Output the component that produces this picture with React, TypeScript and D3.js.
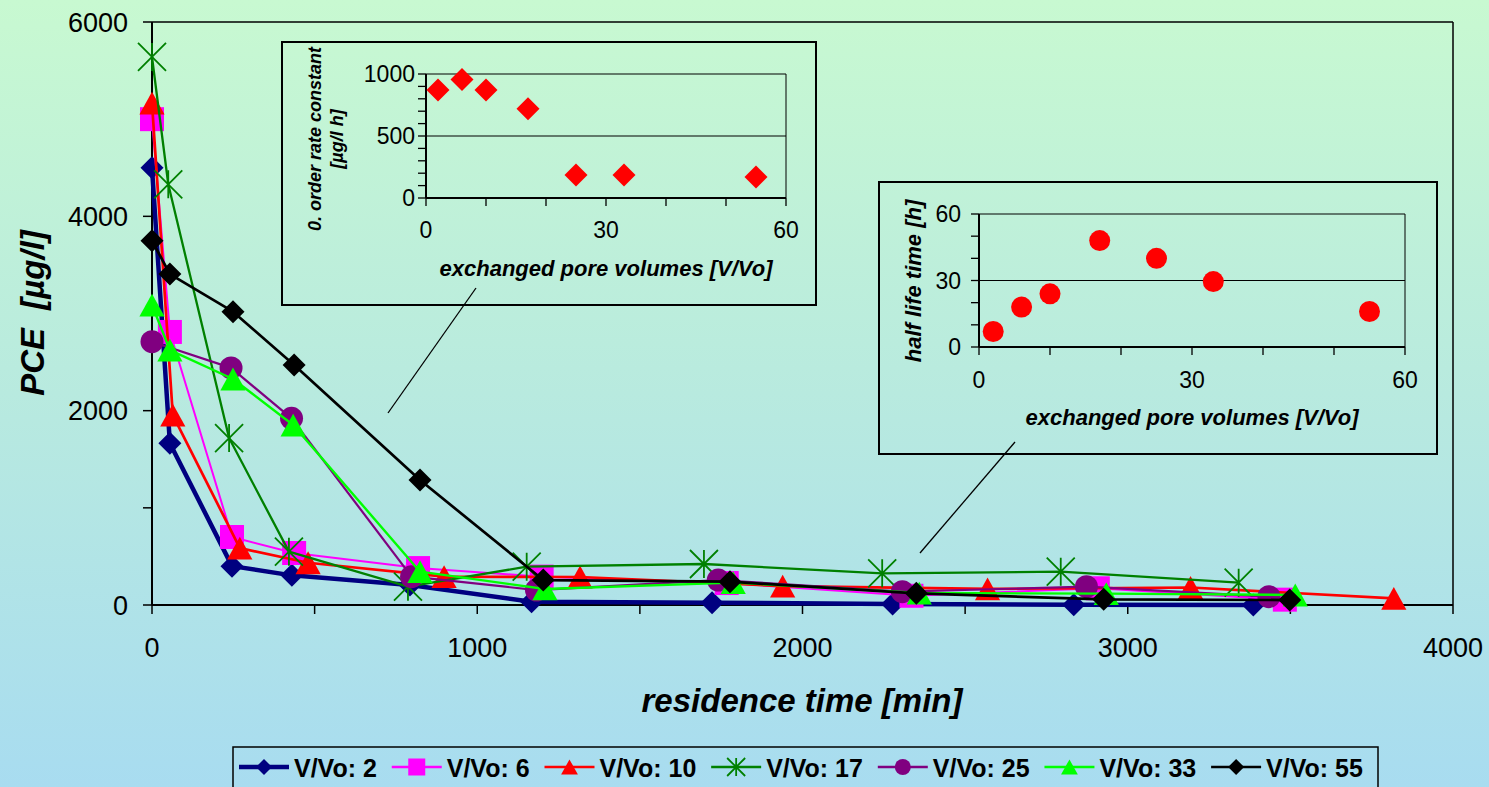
import React from "react";
import * as d3 from "d3";

// ---------- data ----------
const seriesNames = ["V/Vo: 2", "V/Vo: 6", "V/Vo: 10", "V/Vo: 17", "V/Vo: 25", "V/Vo: 33", "V/Vo: 55"];
const seriesColors = ["#000080", "#ff00ff", "#ff0000", "#008000", "#800080", "#00ff00", "#000000"];
const seriesMarkers = ["diamond", "square", "triangle", "star", "circle", "triangle", "diamond"];
const seriesWidths = [4.5, 2, 2.7, 2.3, 2.2, 2.4, 2.7];

const t2 = [0, 55, 246, 430, 793, 1167, 1722, 2277, 2834, 3386];
const c2 = [4500, 1665, 400, 305, 205, 34, 24, 10, 3, 0];
const t6 = [0, 55, 246, 437, 818, 1198, 1767, 2335, 2908, 3483];
const c6 = [5000, 2810, 700, 535, 380, 292, 226, 95, 172, 55];
const t10 = [0, 64, 270, 480, 898, 1316, 1939, 2569, 3193, 3818];
const c10 = [5165, 1955, 586, 435, 292, 288, 195, 165, 180, 69];
const t17 = [0, 50, 237, 421, 787, 1152, 1697, 2245, 2794, 3341];
const c17 = [5640, 4330, 1718, 549, 189, 394, 422, 326, 343, 230];
const t25 = [0, 243, 429, 798, 1182, 1741, 2307, 2873, 3434];
const c25 = [2710, 2440, 1921, 292, 154, 257, 137, 189, 86];
const t33 = [0, 55, 249, 434, 824, 1208, 1787, 2359, 2934, 3515];
const c33 = [3087, 2624, 2326, 1852, 343, 165, 230, 123, 117, 103];
const t55 = [0, 55, 249, 437, 824, 1203, 1777, 2350, 2926, 3498];
const c55 = [3750, 3406, 3019, 2470, 1286, 257, 240, 120, 58, 51];

const seriesTimes = [t2, t6, t10, t17, t25, t33, t55];
const seriesConc = [c2, c6, c10, c17, c25, c33, c55];

const xTicksMain = [0, 1000, 2000, 3000, 4000];
const yTicksMain = [0, 2000, 4000, 6000];

// insets
const poreVolumes = [2, 6, 10, 17, 25, 33, 55];
const rateConstant = [870, 955, 870, 720, 185, 185, 170];
const halfLifeTime = [7, 18, 24, 48, 40, 29.5, 16];
const insetXTicks = [0, 30, 60];
const inset1YTicks = [0, 500, 1000];
const inset2YTicks = [0, 30, 60];

const FONT = "'Liberation Sans', Arial, sans-serif";

function markerPath(type: string, s: number): string {
  switch (type) {
    case "diamond":
      return `M0,${-s}L${s},0L0,${s}L${-s},0Z`;
    case "square":
      return `M${-s},${-s}H${s}V${s}H${-s}Z`;
    case "triangle":
      return `M0,${-s * 0.95}L${s * 1.05},${s * 0.95}L${-s * 1.05},${s * 0.95}Z`;
    case "circle":
      return `M${s},0A${s},${s} 0 1,1 ${-s},0A${s},${s} 0 1,1 ${s},0Z`;
    case "star":
      return `M${-s},${-s}L${s},${s}M${s},${-s}L${-s},${s}M0,${-s}L0,${s}`;
  }
  return "";
}

function Marker({ type, color, s, cx, cy }: any) {
  const isStar = type === "star";
  return (
    <path
      transform={`translate(${cx},${cy})`}
      d={markerPath(type, s)}
      fill={isStar ? "none" : color}
      stroke={isStar ? color : "none"}
      strokeWidth={isStar ? 1.8 : 0}
    />
  );
}

const mainSize: Record<string, number> = { diamond: 11.5, square: 12, triangle: 12, circle: 11.5, star: 14 };
const legendSize: Record<string, number> = { diamond: 8, square: 8.5, triangle: 8, circle: 8, star: 9 };

export default function App() {
  const x = d3.scaleLinear().domain([0, 4000]).range([152, 1453]);
  const y = d3.scaleLinear().domain([0, 6000]).range([605, 22]);
  const yMinor = d3.range(0, 6001, 1000);
  const xMinor = d3.range(0, 4001, 500);

  const line = d3
    .line<[number, number]>()
    .x((d) => x(d[0]))
    .y((d) => y(d[1]));

  const ix1 = d3.scaleLinear().domain([0, 60]).range([426, 786]);
  const iy1 = d3.scaleLinear().domain([0, 1000]).range([198, 74]);
  const ix2 = d3.scaleLinear().domain([0, 60]).range([979, 1405]);
  const iy2 = d3.scaleLinear().domain([0, 60]).range([347, 214]);

  const insetMinorX = d3.range(0, 61, 10);

  const legendFont = 25;
  let lx = 239;
  const legendItems = seriesNames.map((name, i) => {
    const digits = name.length - 6;
    const tw = legendFont * 2.834 + digits * 0.556 * legendFont;
    const item = { x: lx, name, i };
    lx = lx + 55 + tw + 13;
    return item;
  });

  return (
    <svg
      width={1489}
      height={787}
      style={{ position: "absolute", left: 0, top: 0, display: "block" }}
      fontFamily={FONT}
    >
      <defs>
        <linearGradient id="bg" x1="0" y1="0" x2="0" y2="1">
          <stop offset="0" stopColor="#c8f9d1" />
          <stop offset="0.5" stopColor="#b8eadf" />
          <stop offset="1" stopColor="#a8dcf0" />
        </linearGradient>
      </defs>
      <rect x={0} y={0} width={1489} height={787} fill="url(#bg)" />

      {/* main frame */}
      <line x1={x(0)} x2={x(4000)} y1={y(6000)} y2={y(6000)} stroke="#000" strokeWidth={1.5} />
      <line x1={x(4000)} x2={x(4000)} y1={y(6000)} y2={y(0)} stroke="#000" strokeWidth={1.5} />
      <line x1={x(0)} x2={x(0)} y1={y(6000)} y2={y(0)} stroke="#000" strokeWidth={2} />
      <line x1={x(0)} x2={x(4000)} y1={y(0)} y2={y(0)} stroke="#000" strokeWidth={2} />
      {yMinor.map((v) => (
        <line key={"ym" + v} x1={x(0) - 9} x2={x(0)} y1={y(v)} y2={y(v)} stroke="#000" strokeWidth={1.5} />
      ))}
      {xMinor.map((v) => (
        <line key={"xm" + v} x1={x(v)} x2={x(v)} y1={y(0)} y2={y(0) + 9} stroke="#000" strokeWidth={1.5} />
      ))}
      {yTicksMain.map((v) => (
        <text key={"yt" + v} x={128} y={y(v)} dy="0.36em" textAnchor="end" fontSize={27} fill="#000">
          {v}
        </text>
      ))}
      {xTicksMain.map((v) => (
        <text key={"xt" + v} x={x(v)} y={657} textAnchor="middle" fontSize={27} fill="#000">
          {v}
        </text>
      ))}
      <text x={802} y={712} textAnchor="middle" fontSize={33} fontWeight="bold" fontStyle="italic">
        residence time [min]
      </text>
      <text
        transform={`translate(44,313) rotate(-90)`}
        textAnchor="middle"
        fontSize={33}
        fontWeight="bold"
        fontStyle="italic"
        xmlSpace="preserve"
      >
        {"PCE  [µg/l]"}
      </text>

      {/* series */}
      {seriesNames.map((name, i) => {
        const pts: [number, number][] = seriesTimes[i].map((t, k) => [t, seriesConc[i][k]]);
        return (
          <g key={name}>
            <path d={line(pts) || ""} fill="none" stroke={seriesColors[i]} strokeWidth={seriesWidths[i]} strokeLinejoin="round" />
            {pts.map((p, k) => (
              <Marker key={k} type={seriesMarkers[i]} color={seriesColors[i]} s={mainSize[seriesMarkers[i]]} cx={x(p[0])} cy={y(p[1])} />
            ))}
          </g>
        );
      })}

      {/* inset 1 */}
      <rect x={282} y={42} width={534} height={263} fill="none" stroke="#000" strokeWidth={2} />
      <line x1={476} y1={288} x2={388} y2={413} stroke="#000" strokeWidth={1.3} />
      <line x1={ix1(0)} x2={ix1(60)} y1={iy1(1000)} y2={iy1(1000)} stroke="#000" strokeWidth={1} />
      <line x1={ix1(60)} x2={ix1(60)} y1={iy1(1000)} y2={iy1(0)} stroke="#000" strokeWidth={1} />
      <line x1={ix1(0)} x2={ix1(60)} y1={iy1(500)} y2={iy1(500)} stroke="#000" strokeWidth={1} />
      <line x1={ix1(0)} x2={ix1(0)} y1={iy1(1000)} y2={iy1(0)} stroke="#000" strokeWidth={2} />
      <line x1={ix1(0)} x2={ix1(60)} y1={iy1(0)} y2={iy1(0)} stroke="#000" strokeWidth={2} />
      {d3.range(0, 1001, 100).map((v) => (
        <line key={"i1y" + v} x1={ix1(0) - 8} x2={ix1(0)} y1={iy1(v)} y2={iy1(v)} stroke="#000" strokeWidth={1.3} />
      ))}
      {insetMinorX.map((v) => (
        <line key={"i1x" + v} x1={ix1(v)} x2={ix1(v)} y1={iy1(0)} y2={iy1(0) + 8} stroke="#000" strokeWidth={1.3} />
      ))}
      {inset1YTicks.map((v) => (
        <text key={"i1yt" + v} x={415} y={iy1(v)} dy="0.36em" textAnchor="end" fontSize={23}>
          {v}
        </text>
      ))}
      {insetXTicks.map((v) => (
        <text key={"i1xt" + v} x={ix1(v)} y={238} textAnchor="middle" fontSize={23}>
          {v}
        </text>
      ))}
      <text x={606} y={276} textAnchor="middle" fontSize={22} fontWeight="bold" fontStyle="italic">
        exchanged pore volumes [V/Vo]
      </text>
      <text transform="translate(321,139) rotate(-90)" textAnchor="middle" fontSize={18} fontWeight="bold" fontStyle="italic">
        0. order rate constant
      </text>
      <text transform="translate(343,139) rotate(-90)" textAnchor="middle" fontSize={18} fontWeight="bold" fontStyle="italic">
        [µg/l h]
      </text>
      {poreVolumes.map((v, k) => (
        <Marker key={"i1p" + k} type="diamond" color="#ff0000" s={11.5} cx={ix1(v)} cy={iy1(rateConstant[k])} />
      ))}

      {/* inset 2 */}
      <rect x={879} y={182} width={558} height={272} fill="none" stroke="#000" strokeWidth={2} />
      <line x1={920} y1={553} x2={1015} y2={442} stroke="#000" strokeWidth={1.3} />
      <line x1={ix2(0)} x2={ix2(60)} y1={iy2(60)} y2={iy2(60)} stroke="#000" strokeWidth={1} />
      <line x1={ix2(60)} x2={ix2(60)} y1={iy2(60)} y2={iy2(0)} stroke="#000" strokeWidth={1} />
      <line x1={ix2(0)} x2={ix2(60)} y1={iy2(30)} y2={iy2(30)} stroke="#000" strokeWidth={1} />
      <line x1={ix2(0)} x2={ix2(0)} y1={iy2(60)} y2={iy2(0)} stroke="#000" strokeWidth={2} />
      <line x1={ix2(0)} x2={ix2(60)} y1={iy2(0)} y2={iy2(0)} stroke="#000" strokeWidth={2} />
      {d3.range(0, 61, 10).map((v) => (
        <line key={"i2y" + v} x1={ix2(0) - 8} x2={ix2(0)} y1={iy2(v)} y2={iy2(v)} stroke="#000" strokeWidth={1.3} />
      ))}
      {insetMinorX.map((v) => (
        <line key={"i2x" + v} x1={ix2(v)} x2={ix2(v)} y1={iy2(0)} y2={iy2(0) + 8} stroke="#000" strokeWidth={1.3} />
      ))}
      {inset2YTicks.map((v) => (
        <text key={"i2yt" + v} x={961} y={iy2(v)} dy="0.36em" textAnchor="end" fontSize={23}>
          {v}
        </text>
      ))}
      {insetXTicks.map((v) => (
        <text key={"i2xt" + v} x={ix2(v)} y={388} textAnchor="middle" fontSize={23}>
          {v}
        </text>
      ))}
      <text x={1192} y={425} textAnchor="middle" fontSize={22} fontWeight="bold" fontStyle="italic">
        exchanged pore volumes [V/Vo]
      </text>
      <text transform="translate(921,281) rotate(-90)" textAnchor="middle" fontSize={22} fontWeight="bold" fontStyle="italic">
        half life time [h]
      </text>
      {poreVolumes.map((v, k) => (
        <Marker key={"i2p" + k} type="circle" color="#ff0000" s={10.5} cx={ix2(v)} cy={iy2(halfLifeTime[k])} />
      ))}

      {/* legend */}
      <rect x={233} y={747} width={1145} height={46} fill="none" stroke="#000" strokeWidth={1.5} />
      {legendItems.map((it) => (
        <g key={"lg" + it.i}>
          <line x1={it.x} x2={it.x + 50} y1={767} y2={767} stroke={seriesColors[it.i]} strokeWidth={Math.max(seriesWidths[it.i], 2.5)} />
          <Marker type={seriesMarkers[it.i]} color={seriesColors[it.i]} s={legendSize[seriesMarkers[it.i]]} cx={it.x + 25} cy={767} />
          <text x={it.x + 55} y={777} fontSize={legendFont} fontWeight="bold">
            {it.name}
          </text>
        </g>
      ))}
    </svg>
  );
}
